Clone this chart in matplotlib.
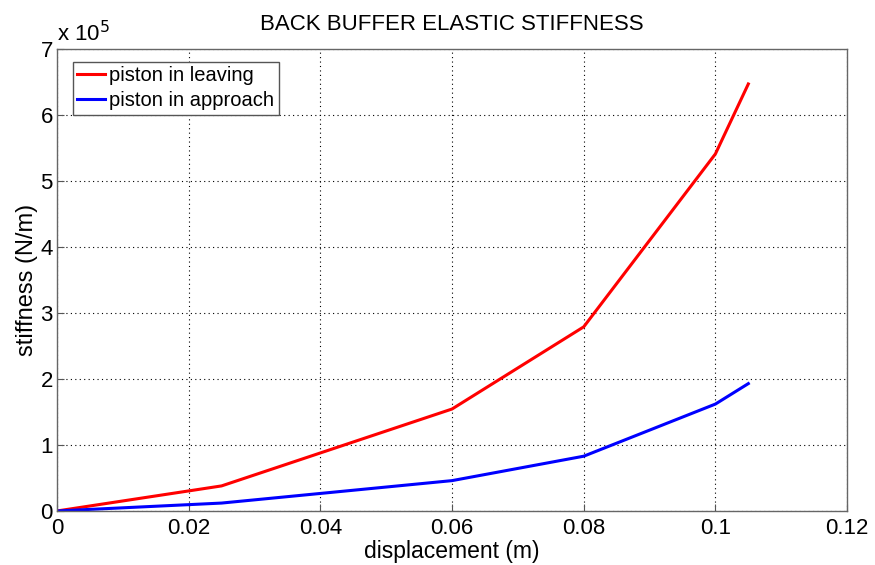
import matplotlib.pyplot as plt
from matplotlib.ticker import FuncFormatter

plt.rcParams['font.family'] = ['Liberation Sans', 'DejaVu Sans']

# displacement (m)
disp = [0, 0.025, 0.06, 0.08, 0.1, 0.105]
# stiffness (N/m)
leaving = [0, 0.38e5, 1.545e5, 2.79e5, 5.41e5, 6.47e5]
approach = [0, 0.12e5, 0.46e5, 0.83e5, 1.62e5, 1.93e5]

fig = plt.figure(figsize=(8.75, 5.65), dpi=100)
ax = fig.add_axes([0.0651, 0.0956, 0.903, 0.8177])

ax.plot(disp, leaving, color='#ff0000', lw=2.2, label='piston in leaving')
ax.plot(disp, approach, color='#0000ff', lw=2.2, label='piston in approach')

ax.set_xlim(0, 0.12)
ax.set_ylim(0, 7e5)
ax.set_xticks([0, 0.02, 0.04, 0.06, 0.08, 0.1, 0.12])
ax.set_xticklabels(['0', '0.02', '0.04', '0.06', '0.08', '0.1', '0.12'])
ax.set_yticks([i * 1e5 for i in range(8)])
ax.yaxis.set_major_formatter(FuncFormatter(lambda v, p: '%d' % round(v / 1e5)))

ax.grid(True, color='black', linestyle=(0, (1, 3)), lw=0.8)
ax.tick_params(direction='in', labelsize=16, length=5, color='#555555')
ax.tick_params(axis='x', pad=5)
ax.tick_params(axis='y', pad=3)
for s in ax.spines.values():
    s.set_color('#666666')
    s.set_linewidth(1)

ax.text(0, 1.005, 'x 10$^5$', transform=ax.transAxes, fontsize=16, va='bottom', ha='left')

ax.set_title('BACK BUFFER ELASTIC STIFFNESS', fontsize=16, pad=14)
ax.set_xlabel('displacement (m)', fontsize=16.5, labelpad=1)
ax.set_ylabel('stiffness (N/m)', fontsize=17, labelpad=2)

leg = ax.legend(loc='upper left', bbox_to_anchor=(0.02, 0.9725), fontsize=14.5,
                fancybox=False, framealpha=1, edgecolor='#555555',
                handlelength=1.4, handletextpad=0.2, borderpad=0.22, labelspacing=0.3,
                borderaxespad=0)
leg.get_frame().set_linewidth(1)

plt.savefig('out.png')
